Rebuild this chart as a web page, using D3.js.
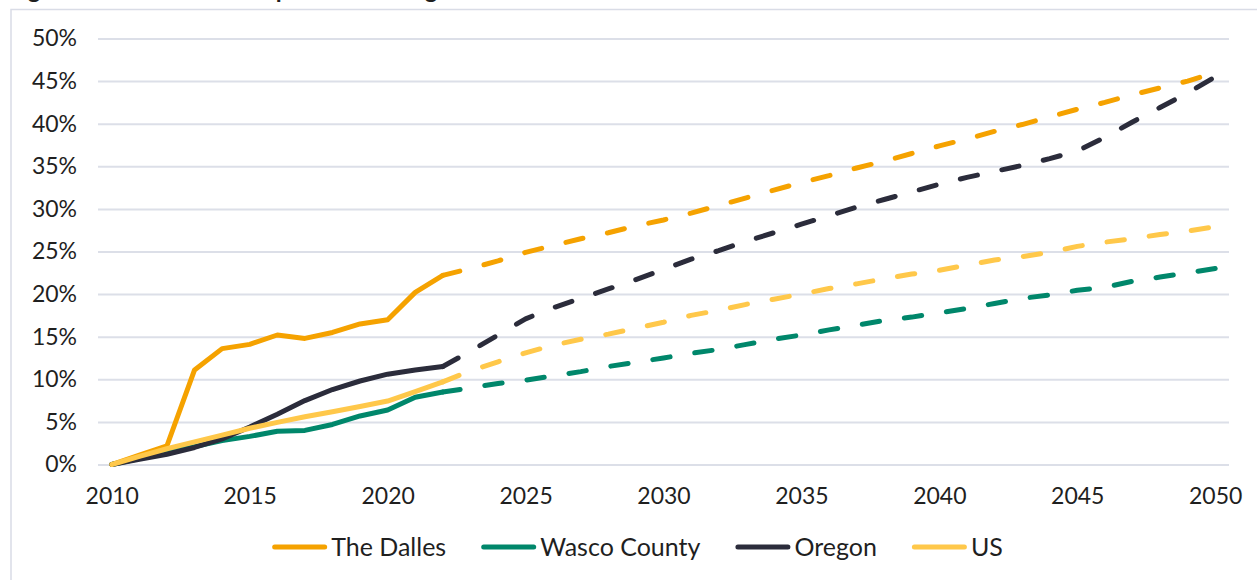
<!DOCTYPE html>
<html>
<head>
<meta charset="utf-8">
<script src="https://cdn.jsdelivr.net/npm/d3@7"></script>
<style>
    body { margin: 0; background: #fff; }
    text { font-family: Lato, "Noto Sans", sans-serif; fill: #1f1f1f; }
</style>
</head>
<body>
<div class="chart_container"></div>
<script>
    // years on the category axis
    var histYears = d3.range(2010, 2023);
    var projYears = d3.range(2022, 2051);
    var allYears = d3.range(2010, 2051);

    // cumulative growth since 2010, in percent
    var dallesHist = [0, 1.1, 2.2, 11.1, 13.6, 14.1, 15.2, 14.8, 15.5, 16.5, 17.0, 20.2, 22.2];
    var wascoHist  = [0, 0.7, 1.4, 2.1, 2.8, 3.3, 3.9, 4.0, 4.7, 5.7, 6.4, 7.9, 8.5];
    var oregonHist = [0, 0.6, 1.2, 2.0, 3.0, 4.4, 5.9, 7.5, 8.8, 9.8, 10.6, 11.1, 11.5];
    var usHist     = [0, 0.95, 1.85, 2.65, 3.45, 4.25, 4.95, 5.6, 6.2, 6.8, 7.45, 8.55, 9.7];

    // projections 2022-2050
    var dallesProj = [22.2, 23.0, 23.9, 24.9, 25.7, 26.5, 27.2, 28.0, 28.7, 29.5, 30.4, 31.3, 32.2, 33.1, 33.9,
                      34.8, 35.6, 36.5, 37.4, 38.2, 39.1, 39.9, 40.8, 41.7, 42.5, 43.4, 44.2, 45.0, 46.0];
    var wascoProj  = [8.5, 9.0, 9.5, 9.9, 10.4, 10.9, 11.5, 12.0, 12.5, 13.05, 13.5, 14.1, 14.7, 15.2, 15.8,
                      16.35, 16.9, 17.3, 17.8, 18.3, 18.9, 19.5, 19.9, 20.45, 20.8, 21.5, 22.0, 22.5, 23.0];
    var oregonProj = [11.5, 13.3, 15.2, 17.1, 18.4, 19.5, 20.6, 21.7, 22.9, 24.1, 25.1, 26.2, 27.2, 28.2, 29.2,
                      30.2, 31.1, 32.0, 32.9, 33.7, 34.4, 35.1, 35.9, 36.8, 38.4, 40.2, 41.9, 43.6, 45.5];
    var usProj     = [9.7, 11.0, 12.05, 13.1, 14.0, 14.7, 15.3, 16.0, 16.7, 17.5, 18.1, 18.8, 19.4, 20.0, 20.65,
                      21.2, 21.8, 22.35, 22.8, 23.4, 24.0, 24.4, 24.9, 25.6, 26.1, 26.5, 27.0, 27.4, 27.9];

    var seriesNames = ["The Dalles", "Wasco County", "Oregon", "US"];
    var seriesColors = ["#F5A200", "#00876B", "#2B2C3B", "#FFC84A"];
    var yTicks = [0, 5, 10, 15, 20, 25, 30, 35, 40, 45, 50];
    var xTicks = [2010, 2015, 2020, 2025, 2030, 2035, 2040, 2045, 2050];

    var w = 1257
    var h = 580
    var p_left = 98, p_right = 1229, p_top = 38.5, p_bottom = 464.5

    var svg = d3.select('.chart_container')
                .append('svg')
                .attr('width', w)
                .attr('height', h);

    // frame round the chart
    svg.append('rect')
        .attr('x', 11).attr('y', 9.5)
        .attr('width', 1270).attr('height', 600)
        .attr('fill', 'none')
        .attr('stroke', '#D9DCE6')
        .attr('stroke-width', 1.5);

    // title, mostly above the picture
    svg.append('text')
        .attr('x', 8).attr('y', -2)
        .style('font-size', '24px')
        .style('font-weight', 'bold')
        .text('Figure 10. Cumulative Population Change Since 2010');

    var x_scale = d3.scalePoint()
                    .domain(allYears)
                    .range([p_left, p_right])
                    .padding(0.5);
    var y_scale = d3.scaleLinear()
                    .domain([0, 50])
                    .range([p_bottom, p_top]);

    // gridlines
    svg.append('g')
        .attr('transform', 'translate(' + p_left + ',0)')
        .call(d3.axisLeft(y_scale).tickValues(yTicks).tickSize(-(p_right - p_left)).tickFormat(''))
        .call(g => g.select('.domain').remove())
        .selectAll('line')
        .attr('stroke', '#DCDFE8')
        .attr('stroke-width', 2);

    // y axis labels
    svg.append('g')
        .attr('transform', 'translate(' + p_left + ',0)')
        .call(d3.axisLeft(y_scale).tickValues(yTicks).tickSize(0).tickPadding(21).tickFormat(d => d + '%'))
        .call(g => g.select('.domain').remove())
        .selectAll('text')
        .style('font-size', '23px')
        .style('font-family', 'Lato, sans-serif')
        .attr('fill', '#1f1f1f');

    // x axis labels
    svg.append('g')
        .attr('transform', 'translate(0,' + p_bottom + ')')
        .call(d3.axisBottom(x_scale).tickValues(xTicks).tickSize(0).tickPadding(23))
        .call(g => g.select('.domain').remove())
        .selectAll('text')
        .style('font-size', '23px')
        .style('font-family', 'Lato, sans-serif')
        .attr('fill', '#1f1f1f');

    var line = d3.line()
                .x(d => x_scale(d[0]))
                .y(d => y_scale(d[1]));

    var hist = [dallesHist, wascoHist, oregonHist, usHist];
    var proj = [dallesProj, wascoProj, oregonProj, usProj];

    //draw each series, dashed projection first then solid history
    seriesNames.forEach(function(name, i){
        svg.append('path')
            .attr('d', line(projYears.map((yr, j) => [yr, proj[i][j]])))
            .attr('fill', 'none')
            .attr('stroke', seriesColors[i])
            .attr('stroke-width', 5)
            .attr('stroke-linecap', 'round')
            .attr('stroke-linejoin', 'round')
            .style('stroke-dasharray', '17.5,25');
    });
    seriesNames.forEach(function(name, i){
        svg.append('path')
            .attr('d', line(histYears.map((yr, j) => [yr, hist[i][j]])))
            .attr('fill', 'none')
            .attr('stroke', seriesColors[i])
            .attr('stroke-width', 5)
            .attr('stroke-linecap', 'round')
            .attr('stroke-linejoin', 'round');
    });

    // legend
    var legend = svg.append('g').attr('class', 'legend');
    var lx = 0;
    seriesNames.forEach(function(name, i){
        var item = legend.append('g').attr('transform', 'translate(' + lx + ',0)');
        item.append('line')
            .attr('x1', 2.5).attr('x2', 52.5)
            .attr('y1', 0).attr('y2', 0)
            .attr('stroke', seriesColors[i])
            .attr('stroke-width', 5)
            .attr('stroke-linecap', 'round');
        var t = item.append('text')
            .attr('x', 59).attr('y', 9)
            .style('font-size', '25px')
            .text(name);
        lx += 59 + t.node().getComputedTextLength() + 35;
    });
    var legendWidth = lx - 35;
    legend.attr('transform', 'translate(' + (637.5 - legendWidth / 2) + ',547)');
</script>
</body>
</html>
